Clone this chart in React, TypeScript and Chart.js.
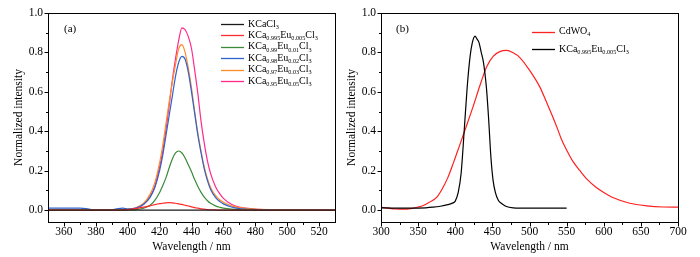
import React, { useEffect, useRef } from 'react';
import { Chart, registerables } from 'chart.js';

Chart.register(...registerables);

const SERIF = '"Liberation Serif", "Times New Roman", Times, "DejaVu Serif", serif';

// ---------- Panel (a) data ----------
const waveA = [350, 360, 370, 374, 378, 385, 390, 394, 397, 400, 405, 410, 414, 417, 420, 422, 424, 426, 428, 430, 432, 434, 436, 438, 440, 442, 444, 446, 448, 450, 452, 455, 458, 460, 465, 470, 480, 490, 500, 515, 530];
const kcacl3 = [0, 0, 0, 0, 0, 0, 0, 0, 0, 0, 0, 0, 0, 0, 0, 0, 0, 0, 0, 0, 0, 0, 0, 0, 0, 0, 0, 0, 0, 0, 0, 0, 0, 0, 0, 0, 0, 0, 0, 0, 0];
const eu0005 = [0, 0, 0, 0, 0, 0, 0, 0, 0.001, 0.003, 0.008, 0.015, 0.022, 0.028, 0.033, 0.035, 0.037, 0.038, 0.037, 0.035, 0.032, 0.029, 0.025, 0.021, 0.017, 0.013, 0.01, 0.007, 0.005, 0.003, 0.002, 0.001, 0, 0, 0, 0, 0, 0, 0, 0, 0];
const eu001 = [0, 0, 0, 0, 0, 0, 0, 0, 0, 0.001, 0.003, 0.01, 0.025, 0.05, 0.09, 0.125, 0.165, 0.215, 0.26, 0.29, 0.3, 0.29, 0.265, 0.23, 0.195, 0.155, 0.12, 0.09, 0.066, 0.048, 0.035, 0.022, 0.014, 0.01, 0.005, 0.003, 0.001, 0, 0, 0, 0];
const eu002 = [0.01, 0.01, 0.01, 0.008, 0.002, 0.001, 0.002, 0.008, 0.01, 0.006, 0.01, 0.03, 0.065, 0.115, 0.2, 0.28, 0.38, 0.48, 0.58, 0.68, 0.75, 0.78, 0.765, 0.7, 0.6, 0.49, 0.38, 0.29, 0.21, 0.15, 0.105, 0.065, 0.042, 0.032, 0.016, 0.008, 0.003, 0.001, 0, 0, 0];
const eu003 = [0, 0, 0, 0, 0, 0, 0, 0.002, 0.003, 0.005, 0.012, 0.035, 0.08, 0.14, 0.24, 0.33, 0.44, 0.55, 0.65, 0.74, 0.82, 0.84, 0.8, 0.72, 0.62, 0.5, 0.39, 0.3, 0.22, 0.16, 0.115, 0.075, 0.05, 0.04, 0.022, 0.013, 0.006, 0.003, 0.001, 0, 0];
const eu005 = [0, 0, 0, 0, 0, 0, 0, 0.002, 0.003, 0.004, 0.01, 0.03, 0.07, 0.12, 0.22, 0.3, 0.41, 0.53, 0.66, 0.77, 0.863, 0.925, 0.915, 0.88, 0.82, 0.71, 0.59, 0.45, 0.34, 0.25, 0.185, 0.12, 0.08, 0.06, 0.03, 0.016, 0.006, 0.002, 0, 0, 0];
const labelsA = [
  'KCaCl_{3}',
  'KCa_{0.995}Eu_{0.005}Cl_{3}',
  'KCa_{0.99}Eu_{0.01}Cl_{3}',
  'KCa_{0.98}Eu_{0.02}Cl_{3}',
  'KCa_{0.97}Eu_{0.03}Cl_{3}',
  'KCa_{0.95}Eu_{0.05}Cl_{3}',
];
const xTicksA = [360, 380, 400, 420, 440, 460, 480, 500, 520];

// ---------- Panel (b) data ----------
const waveCdWO4 = [300, 310, 320, 330, 340, 350, 357, 365, 375, 382, 390, 398, 406, 413, 424, 433, 438, 442, 451, 460, 469, 478, 487, 500, 514, 523, 530, 537, 543, 550, 558, 568, 578, 590, 600, 613, 635, 658, 680, 700];
const cdwo4 = [0.015, 0.01, 0.006, 0.005, 0.008, 0.016, 0.024, 0.04, 0.065, 0.105, 0.165, 0.245, 0.33, 0.405, 0.525, 0.63, 0.685, 0.725, 0.78, 0.804, 0.81, 0.798, 0.774, 0.71, 0.624, 0.547, 0.485, 0.42, 0.36, 0.305, 0.25, 0.2, 0.155, 0.115, 0.09, 0.063, 0.035, 0.022, 0.016, 0.015];
const waveKCa = [300, 320, 340, 360, 370, 380, 390, 397, 400, 404, 408, 412, 416, 420, 423, 426.7, 429, 432, 435, 438, 442, 445, 448, 451, 454, 458, 462, 468, 478, 500, 550];
const kcaEu = [0.012, 0.01, 0.01, 0.012, 0.015, 0.02, 0.028, 0.037, 0.046, 0.09, 0.19, 0.4, 0.62, 0.78, 0.85, 0.883, 0.87, 0.85, 0.8, 0.75, 0.62, 0.46, 0.27, 0.15, 0.09, 0.05, 0.035, 0.02, 0.012, 0.01, 0.01];
const labelsB = ['CdWO_{4}', 'KCa_{0.995}Eu_{0.005}Cl_{3}'];
const xTicksB = [300, 350, 400, 450, 500, 550, 600, 650, 700];

const yTicks = [0, 0.2, 0.4, 0.6, 0.8, 1.0];

// ---------- styles ----------
const colorsA = ['#1a1a1a', '#ff2a2a', '#3a8a3a', '#2f62cc', '#ff8c2a', '#ff2a8c'];
const colorsB = ['#ff2020', '#000000'];

function parseRich(label: string) {
  const segs: { t: string; sub: boolean }[] = [];
  const re = /_\{([^}]*)\}/g;
  let last = 0;
  let m: RegExpExecArray | null;
  while ((m = re.exec(label))) {
    if (m.index > last) segs.push({ t: label.slice(last, m.index), sub: false });
    segs.push({ t: m[1], sub: true });
    last = re.lastIndex;
  }
  if (last < label.length) segs.push({ t: label.slice(last), sub: false });
  return segs;
}

function drawRich(ctx: CanvasRenderingContext2D, label: string, x: number, y: number, size: number) {
  let cx = x;
  for (const s of parseRich(label)) {
    if (s.sub) {
      ctx.font = `${Math.round(size * 0.62 * 10) / 10}px ${SERIF}`;
      ctx.fillText(s.t, cx, y + size * 0.32);
    } else {
      ctx.font = `${size}px ${SERIF}`;
      ctx.fillText(s.t, cx, y);
    }
    cx += ctx.measureText(s.t).width;
  }
}

const decorPlugin = {
  id: 'decor',
  afterDraw(chart: any, _args: any, opts: any) {
    const { ctx, chartArea: a } = chart;
    const xs = chart.scales.x;
    const ys = chart.scales.y;
    ctx.save();
    ctx.strokeStyle = '#000';
    ctx.lineWidth = 1;
    const L = Math.round(a.left) + 0.5;
    const T = Math.round(a.top) + 0.5;
    const R = Math.round(a.right) + 0.5;
    const B = Math.round(a.bottom) + 0.5;
    ctx.strokeRect(L, T, R - L, B - T);
    const xt: number[] = xs.ticks.map((t: any) => t.value);
    const yt: number[] = ys.ticks.map((t: any) => t.value);
    const mid = (arr: number[]) => arr.slice(1).map((v, i) => (v + arr[i]) / 2);
    ctx.beginPath();
    const xTick = (v: number, len: number) => {
      const p = Math.round(xs.getPixelForValue(v)) + 0.5;
      ctx.moveTo(p, B);
      ctx.lineTo(p, B + len);
    };
    const yTick = (v: number, len: number) => {
      const p = Math.round(ys.getPixelForValue(v)) + 0.5;
      ctx.moveTo(L, p);
      ctx.lineTo(L - len, p);
    };
    xt.forEach((v) => xTick(v, 4));
    mid(xt).forEach((v) => xTick(v, 2.5));
    yt.forEach((v) => yTick(v, 4));
    mid(yt).forEach((v) => yTick(v, 2.5));
    ctx.stroke();

    // panel label
    ctx.fillStyle = '#000';
    ctx.textBaseline = 'middle';
    ctx.textAlign = 'left';
    ctx.font = `11px ${SERIF}`;
    ctx.fillText(opts.panel.text, opts.panel.x, opts.panel.y);

    // legend
    const lg = opts.legend;
    lg.items.forEach((it: any, i: number) => {
      const y = lg.y0 + i * lg.dy;
      ctx.strokeStyle = it.color;
      ctx.lineWidth = 1.3;
      ctx.beginPath();
      ctx.moveTo(lg.x0, Math.round(y) + 0.5);
      ctx.lineTo(lg.x1, Math.round(y) + 0.5);
      ctx.stroke();
      ctx.fillStyle = '#000';
      drawRich(ctx, it.label, lg.tx, y, 10);
    });
    ctx.restore();
  },
};

function makeSeries(xs: number[], ys: number[]) {
  return xs.map((x, i) => ({ x, y: ys[i] }));
}

function baseOptions(p: {
  xMin: number; xMax: number; xTicks: number[]; yAxisWidth: number; padRight: number; yTitlePad: number;
  panel: any; legend: any;
}) {
  const tickFont = { family: SERIF, size: 11.5 };
  return {
    animation: false,
    responsive: false,
    maintainAspectRatio: false,
    layout: { padding: { top: 13, right: p.padRight, left: 0, bottom: 0 } },
    elements: { point: { radius: 0 }, line: { borderWidth: 1.2, cubicInterpolationMode: 'monotone' } },
    plugins: {
      legend: { display: false },
      tooltip: { enabled: false },
      decor: { panel: p.panel, legend: p.legend },
    },
    scales: {
      x: {
        type: 'linear',
        min: p.xMin,
        max: p.xMax,
        afterBuildTicks: (s: any) => { s.ticks = p.xTicks.map((v) => ({ value: v })); },
        afterFit: (s: any) => { s.height = 35; },
        grid: { display: false, drawTicks: false },
        border: { display: false },
        ticks: { font: tickFont, color: '#000', padding: 3, maxRotation: 0, autoSkip: false },
        title: { display: true, text: 'Wavelength / nm', font: tickFont, color: '#000', padding: { top: 0, bottom: 3.5 } },
      },
      y: {
        type: 'linear',
        min: -0.06,
        max: 1.0,
        afterBuildTicks: (s: any) => { s.ticks = yTicks.map((v) => ({ value: v })); },
        afterFit: (s: any) => { s.width = p.yAxisWidth; },
        grid: { display: false, drawTicks: false },
        border: { display: false },
        ticks: { font: tickFont, color: '#000', padding: 5, callback: (v: number) => Number(v).toFixed(1) },
        title: { display: true, text: 'Normalized intensity', font: tickFont, color: '#000', padding: { top: p.yTitlePad, bottom: 0 } },
      },
    },
  } as any;
}

export default function App() {
  const refA = useRef<HTMLCanvasElement>(null);
  const refB = useRef<HTMLCanvasElement>(null);

  useEffect(() => {
    let chartA: Chart | null = null;
    let chartB: Chart | null = null;
    let cancelled = false;

    const build = () => {
      if (cancelled) return;
      const seriesA = [kcacl3, eu0005, eu001, eu002, eu003, eu005];
      chartA = new Chart(refA.current!, {
        type: 'line',
        data: {
          datasets: seriesA.map((vals, i) => ({
            label: labelsA[i],
            data: makeSeries(waveA, vals),
            borderColor: colorsA[i],
            backgroundColor: colorsA[i],
            fill: false,
          })),
        },
        options: baseOptions({
          xMin: 350, xMax: 530, xTicks: xTicksA, yAxisWidth: 48, padRight: 7, yTitlePad: 12,
          panel: { text: '(a)', x: 64, y: 29 },
          legend: {
            x0: 221, x1: 244, tx: 248, y0: 24, dy: 11.4,
            items: labelsA.map((l, i) => ({ label: l, color: colorsA[i] })),
          },
        }),
        plugins: [decorPlugin],
      } as any);

      chartB = new Chart(refB.current!, {
        type: 'line',
        data: {
          datasets: [
            { label: labelsB[0], data: makeSeries(waveCdWO4, cdwo4), borderColor: colorsB[0], backgroundColor: colorsB[0], fill: false, order: 2 },
            { label: labelsB[1], data: makeSeries(waveKCa, kcaEu), borderColor: colorsB[1], backgroundColor: colorsB[1], fill: false, order: 1 },
          ],
        },
        options: baseOptions({
          xMin: 300, xMax: 700, xTicks: xTicksB, yAxisWidth: 39, padRight: 22, yTitlePad: 3.5,
          panel: { text: '(b)', x: 54, y: 29 },
          legend: {
            x0: 190, x1: 213, tx: 217, y0: 31.5, dy: 17.6,
            items: labelsB.map((l, i) => ({ label: l, color: colorsB[i] })),
          },
        }),
        plugins: [decorPlugin],
      } as any);
    };

    const fonts: any = (document as any).fonts;
    if (fonts && fonts.load) {
      Promise.all([
        fonts.load('11px "Liberation Serif"'),
        fonts.load('11px "Times New Roman"'),
      ]).catch(() => null).then(build);
    } else {
      build();
    }

    return () => {
      cancelled = true;
      if (chartA) chartA.destroy();
      if (chartB) chartB.destroy();
    };
  }, []);

  return (
    <div style={{ position: 'absolute', left: 0, top: 0, width: 700, height: 257, background: '#fff', fontFamily: SERIF }}>
      <canvas ref={refA} width={342} height={257} style={{ position: 'absolute', left: 0, top: 0, width: 342, height: 257 }} />
      <canvas ref={refB} width={358} height={257} style={{ position: 'absolute', left: 342, top: 0, width: 358, height: 257 }} />
    </div>
  );
}
